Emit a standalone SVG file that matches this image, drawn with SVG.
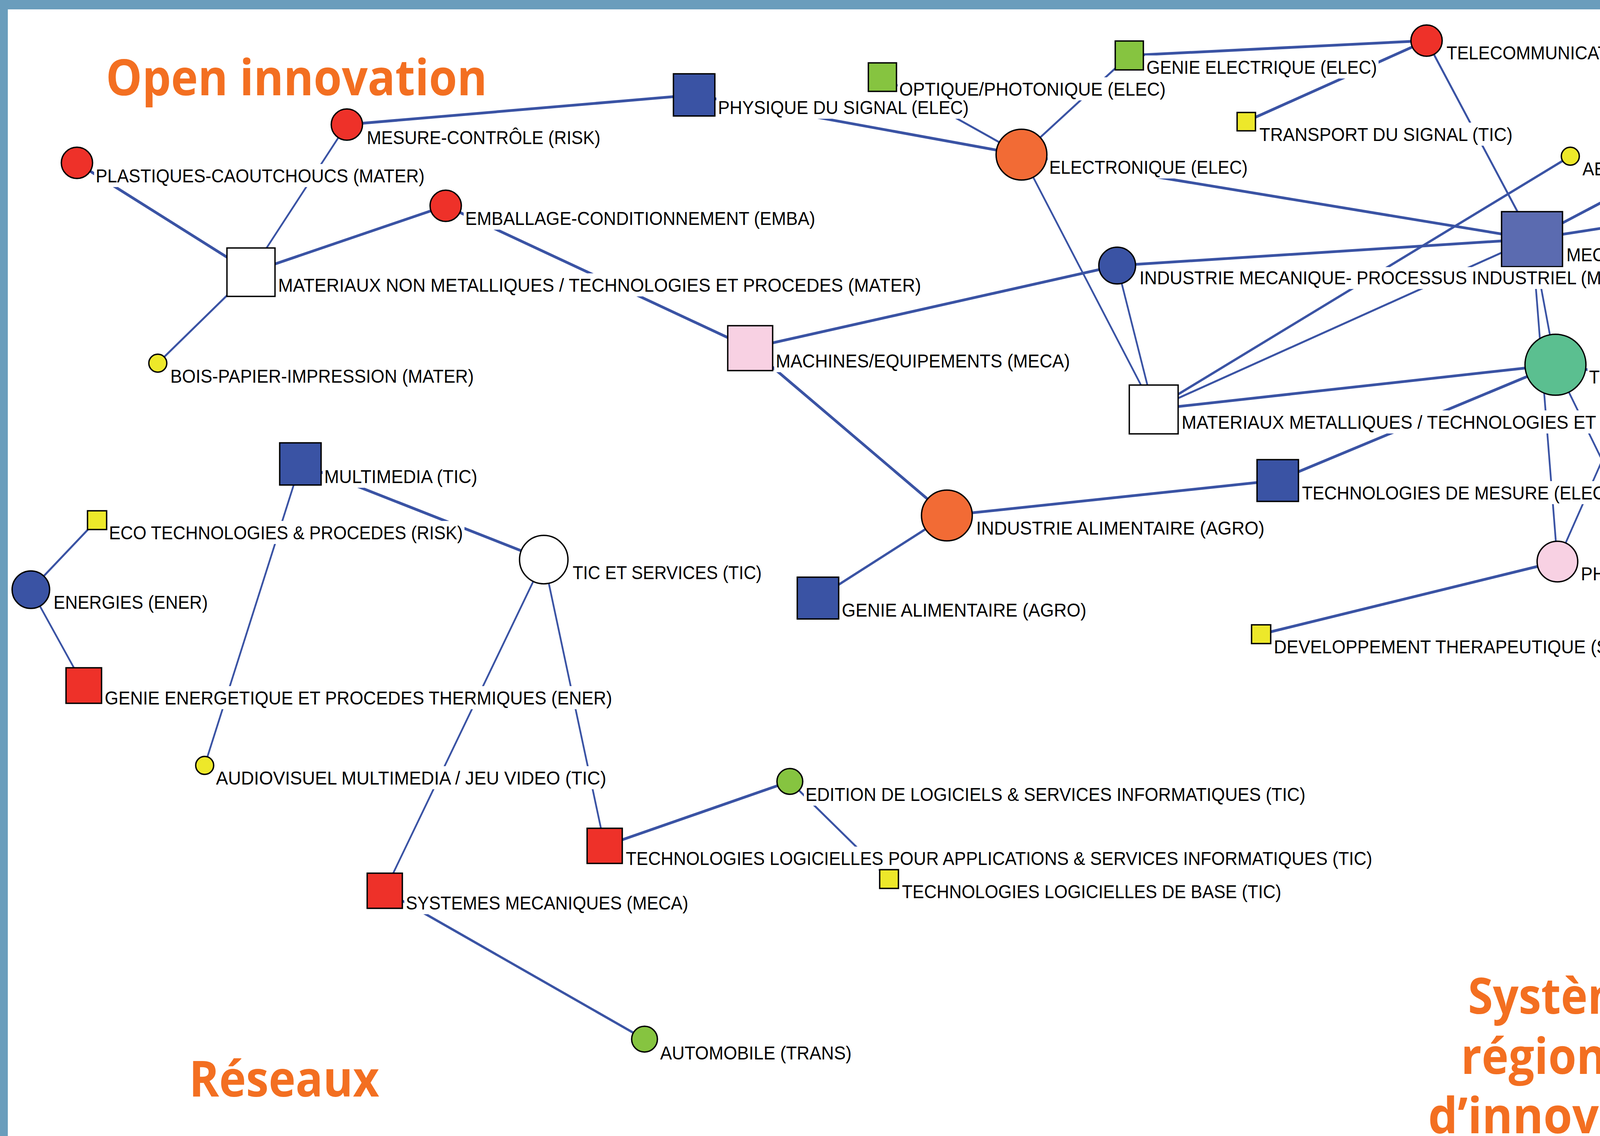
<svg xmlns="http://www.w3.org/2000/svg" width="5767" height="2909" viewBox="0 0 5767 2909">
<style>
.lb{font-family:"Liberation Sans",Arial,sans-serif;font-size:49px;fill:#000}
.bg{fill:#fff}
.nd{stroke:#000;stroke-width:3.5}
.tt{font-family:"Open Sans","Noto Sans",sans-serif;font-weight:700;font-size:128px;fill:#F36F21}
.e{stroke:#3A53A4;fill:none;stroke-linecap:butt}
.w7{stroke-width:7}.w6{stroke-width:6}.w5{stroke-width:5}.w4{stroke-width:4.5}
.red{fill:#EE3129}.blue{fill:#3A53A4}.lav{fill:#5B6BB0}.grn{fill:#86C440}.yel{fill:#EDE82A}.org{fill:#F26B35}.pnk{fill:#F8D1E3}.teal{fill:#5BBF90}.wht{fill:#fff}
.frame{fill:#6A9DBC}
</style>
<rect x="0" y="0" width="5767" height="2909" fill="#fff"/>
<g id="titles">
<text class="tt" x="271" y="244" textLength="976" lengthAdjust="spacingAndGlyphs">Open innovation</text>
<text class="tt" x="4706" y="244" textLength="717" lengthAdjust="spacingAndGlyphs">Partenariats</text>
<text class="tt" x="484" y="2808" textLength="487" lengthAdjust="spacingAndGlyphs">Réseaux</text>
<text class="tt"><tspan x="3758" y="2596" textLength="546" lengthAdjust="spacingAndGlyphs">Systèmes</tspan><tspan x="3740" y="2750" textLength="587" lengthAdjust="spacingAndGlyphs">régionaux</tspan><tspan x="3656" y="2902" textLength="750" lengthAdjust="spacingAndGlyphs">d’innovation</tspan></text>
</g>
<g id="connectors">
<line class="e w7" x1="197" y1="417" x2="642" y2="697"/>
<line class="e w4" x1="888" y1="319" x2="642" y2="697"/>
<line class="e w7" x1="1141" y1="527" x2="642" y2="697"/>
<line class="e w5" x1="404" y1="930" x2="642" y2="697"/>
<line class="e w7" x1="888" y1="319" x2="1777" y2="243"/>
<line class="e w7" x1="1141" y1="527" x2="1920" y2="891"/>
<line class="e w7" x1="1777" y1="243" x2="2615" y2="396"/>
<line class="e w5" x1="2259" y1="197" x2="2615" y2="396"/>
<line class="e w5" x1="2891" y1="142" x2="2615" y2="396"/>
<line class="e w7" x1="2891" y1="142" x2="3652" y2="104"/>
<line class="e w7" x1="3190" y1="311" x2="3652" y2="104"/>
<line class="e w5" x1="3652" y1="104" x2="3922" y2="612"/>
<line class="e w7" x1="2615" y1="396" x2="3922" y2="612"/>
<line class="e w4" x1="2615" y1="396" x2="2953" y2="1048"/>
<line class="e w7" x1="1920" y1="891" x2="2860" y2="680"/>
<line class="e w7" x1="1920" y1="891" x2="2424" y2="1320"/>
<line class="e w7" x1="2860" y1="680" x2="3922" y2="612"/>
<line class="e w4" x1="2860" y1="680" x2="2953" y2="1048"/>
<line class="e w6" x1="2953" y1="1048" x2="4020" y2="400"/>
<line class="e w5" x1="2953" y1="1048" x2="3922" y2="612"/>
<line class="e w7" x1="2953" y1="1048" x2="3982" y2="934"/>
<line class="e w7" x1="3922" y1="612" x2="4503" y2="306"/>
<line class="e w7" x1="3922" y1="612" x2="4829" y2="472"/>
<line class="e w4" x1="3922" y1="612" x2="3982" y2="934"/>
<line class="e w4" x1="3922" y1="612" x2="3987" y2="1438"/>
<line class="e w7" x1="3982" y1="934" x2="4690" y2="1044"/>
<line class="e w7" x1="3982" y1="934" x2="3271" y2="1230"/>
<line class="e w4" x1="3982" y1="934" x2="4172" y2="1323"/>
<line class="e w4" x1="4287" y1="759" x2="3987" y2="1438"/>
<line class="e w7" x1="3987" y1="1438" x2="3228" y2="1624"/>
<line class="e w7" x1="3271" y1="1230" x2="2424" y2="1320"/>
<line class="e w6" x1="2424" y1="1320" x2="2094" y2="1531"/>
<line class="e w5" x1="248" y1="1332" x2="79" y2="1510"/>
<line class="e w4" x1="79" y1="1510" x2="214" y2="1755"/>
<line class="e w7" x1="769" y1="1188" x2="1392" y2="1433"/>
<line class="e w4" x1="769" y1="1188" x2="524" y2="1960"/>
<line class="e w4" x1="1392" y1="1433" x2="985" y2="2281"/>
<line class="e w4" x1="1392" y1="1433" x2="1548" y2="2166"/>
<line class="e w7" x1="1548" y1="2166" x2="2022" y2="2001"/>
<line class="e w5" x1="2022" y1="2001" x2="2276" y2="2251"/>
<line class="e w6" x1="985" y1="2281" x2="1650" y2="2661"/>
<line class="e w6" x1="4472" y1="1565" x2="4850" y2="1721"/>
<line class="e w6" x1="4326" y1="1781" x2="4668" y2="1900"/>
<line class="e w6" x1="4220" y1="1954" x2="4625" y2="2132"/>
<line class="e w6" x1="4143" y1="2183" x2="4736" y2="2298"/>
<line class="e w6" x1="4148" y1="2378" x2="4757" y2="2611"/>
</g>
<g id="nodes">
<g id="n-plastiques"><circle class="nd red" cx="197" cy="417" r="40"/><rect class="bg" x="241" y="420" width="850" height="59"/><text class="lb" x="245" y="467" textLength="842" lengthAdjust="spacingAndGlyphs">PLASTIQUES-CAOUTCHOUCS (MATER)</text></g>
<g id="n-mesure"><circle class="nd red" cx="888" cy="319" r="40"/><rect class="bg" x="935" y="322" width="606" height="59"/><text class="lb" x="939" y="369" textLength="598" lengthAdjust="spacingAndGlyphs">MESURE-CONTRÔLE (RISK)</text></g>
<g id="n-emballage"><circle class="nd red" cx="1141" cy="527" r="40"/><rect class="bg" x="1187" y="529" width="904" height="59"/><text class="lb" x="1191" y="576" textLength="896" lengthAdjust="spacingAndGlyphs">EMBALLAGE-CONDITIONNEMENT (EMBA)</text></g>
<g id="n-matnm"><rect class="nd wht" x="581" y="635" width="123" height="124"/><rect class="bg" x="708" y="700" width="1654" height="59"/><text class="lb" x="712" y="747" textLength="1646" lengthAdjust="spacingAndGlyphs">MATERIAUX NON METALLIQUES / TECHNOLOGIES ET PROCEDES (MATER)</text></g>
<g id="n-bois"><circle class="nd yel" cx="404" cy="930" r="23"/><rect class="bg" x="432" y="933" width="785" height="59"/><text class="lb" x="436" y="980" textLength="777" lengthAdjust="spacingAndGlyphs">BOIS-PAPIER-IMPRESSION (MATER)</text></g>
<g id="n-physique"><rect class="nd blue" x="1724" y="189" width="106" height="108"/><rect class="bg" x="1834" y="245" width="650" height="59"/><text class="lb" x="1838" y="292" textLength="642" lengthAdjust="spacingAndGlyphs">PHYSIQUE DU SIGNAL (ELEC)</text></g>
<g id="n-optique"><rect class="nd grn" x="2223" y="161" width="72" height="73"/><rect class="bg" x="2298" y="198" width="690" height="59"/><text class="lb" x="2302" y="245" textLength="682" lengthAdjust="spacingAndGlyphs">OPTIQUE/PHOTONIQUE (ELEC)</text></g>
<g id="n-electronique"><circle class="nd org" cx="2615" cy="396" r="65"/><rect class="bg" x="2682" y="398" width="516" height="59"/><text class="lb" x="2686" y="445" textLength="508" lengthAdjust="spacingAndGlyphs">ELECTRONIQUE (ELEC)</text></g>
<g id="n-machines"><rect class="nd pnk" x="1863" y="834" width="115" height="115"/><rect class="bg" x="1982" y="894" width="761" height="59"/><text class="lb" x="1986" y="941" textLength="753" lengthAdjust="spacingAndGlyphs">MACHINES/EQUIPEMENTS (MECA)</text></g>
<g id="n-genieelec"><rect class="nd grn" x="2855" y="105" width="72" height="74"/><rect class="bg" x="2931" y="142" width="598" height="59"/><text class="lb" x="2935" y="189" textLength="590" lengthAdjust="spacingAndGlyphs">GENIE ELECTRIQUE (ELEC)</text></g>
<g id="n-telecom"><circle class="nd red" cx="3652" cy="104" r="40"/><rect class="bg" x="3699" y="105" width="645" height="59"/><text class="lb" x="3703" y="152" textLength="637" lengthAdjust="spacingAndGlyphs">TELECOMMUNICATIONS (TIC)</text></g>
<g id="n-transportsignal"><rect class="nd yel" x="3167" y="288" width="47" height="47"/><rect class="bg" x="3220" y="314" width="656" height="59"/><text class="lb" x="3224" y="361" textLength="648" lengthAdjust="spacingAndGlyphs">TRANSPORT DU SIGNAL (TIC)</text></g>
<g id="n-aerien"><circle class="nd yel" cx="4020" cy="400" r="23"/><rect class="bg" x="4047" y="402" width="369" height="59"/><text class="lb" x="4051" y="449" textLength="361" lengthAdjust="spacingAndGlyphs">AERIEN (TRANS)</text></g>
<g id="n-mecaprec"><rect class="nd lav" x="3844" y="542" width="156" height="141"/><rect class="bg" x="4006" y="622" width="777" height="59"/><text class="lb" x="4010" y="669" textLength="769" lengthAdjust="spacingAndGlyphs">MECANIQUE DE PRECISION (MECA)</text></g>
<g id="n-indmeca"><circle class="nd blue" cx="2860" cy="680" r="47"/><rect class="bg" x="2913" y="684" width="1298" height="56"/><text class="lb" x="2917" y="728" textLength="1290" lengthAdjust="spacingAndGlyphs">INDUSTRIE MECANIQUE- PROCESSUS INDUSTRIEL (MECA)</text></g>
<g id="n-diagnostic"><rect class="nd red" x="4244" y="714" width="87" height="90"/><rect class="bg" x="4336" y="764" width="1178" height="59"/><text class="lb" x="4340" y="811" textLength="1170" lengthAdjust="spacingAndGlyphs">DIAGNOSTIC ET MARQUEURS BIOLOGIQUES (SANTE)</text></g>
<g id="n-techmed"><circle class="nd teal" cx="3982" cy="934" r="78"/><rect class="bg" x="4064" y="935" width="823" height="59"/><text class="lb" x="4068" y="982" textLength="815" lengthAdjust="spacingAndGlyphs">TECHNOLOGIES MEDICALES (SANTE)</text></g>
<g id="n-metallurgie"><circle class="nd yel" cx="4503" cy="306" r="23"/><rect class="bg" x="4531" y="310" width="1039" height="59"/><text class="lb" x="4535" y="357" textLength="1031" lengthAdjust="spacingAndGlyphs">METALLURGIE-TRAVAIL DES METAUX (MATER)</text></g>
<g id="n-manutention"><circle class="nd yel" cx="4829" cy="472" r="23"/><rect class="bg" x="4858" y="475" width="509" height="59"/><text class="lb" x="4862" y="522" textLength="501" lengthAdjust="spacingAndGlyphs">MANUTENTION (MECA)</text></g>
<g id="n-matmet"><rect class="nd wht" x="2891" y="986" width="125" height="125"/><rect class="bg" x="3021" y="1051" width="1536" height="59"/><text class="lb" x="3025" y="1098" textLength="1528" lengthAdjust="spacingAndGlyphs">MATERIAUX METALLIQUES / TECHNOLOGIES ET PROCEDES (MATER)</text></g>
<g id="n-techmesure"><rect class="nd blue" x="3218" y="1177" width="106" height="107"/><rect class="bg" x="3329" y="1232" width="799" height="59"/><text class="lb" x="3333" y="1279" textLength="791" lengthAdjust="spacingAndGlyphs">TECHNOLOGIES DE MESURE (ELEC)</text></g>
<g id="n-outils"><rect class="nd yel" x="4149" y="1300" width="47" height="47"/><rect class="bg" x="4201" y="1324" width="1583" height="59"/><text class="lb" x="4205" y="1371" textLength="1575" lengthAdjust="spacingAndGlyphs">OUTILS DE RECHERCHE BIOLOGIQUES ET PHARMACEUTIQUES (SANTE)</text></g>
<g id="n-pharmacie"><circle class="nd pnk" cx="3987" cy="1438" r="52"/><rect class="bg" x="4043" y="1439" width="802" height="59"/><text class="lb" x="4047" y="1486" textLength="794" lengthAdjust="spacingAndGlyphs">PHARMACIE-BIOINDUSTRIE (SANTE)</text></g>
<g id="n-developpement"><rect class="nd yel" x="3204" y="1600" width="49" height="48"/><rect class="bg" x="3257" y="1626" width="1000" height="59"/><text class="lb" x="3261" y="1673" textLength="992" lengthAdjust="spacingAndGlyphs">DEVELOPPEMENT THERAPEUTIQUE (SANTE)</text></g>
<g id="n-electronique2"><rect class="nd yel" x="4666" y="1020" width="48" height="48"/><rect class="bg" x="4717" y="1048" width="516" height="59"/><text class="lb" x="4721" y="1095" textLength="508" lengthAdjust="spacingAndGlyphs">ELECTRONIQUE (ELEC)</text></g>
<g id="n-indalim"><circle class="nd org" cx="2424" cy="1320" r="65"/><rect class="bg" x="2495" y="1322" width="746" height="59"/><text class="lb" x="2499" y="1369" textLength="738" lengthAdjust="spacingAndGlyphs">INDUSTRIE ALIMENTAIRE (AGRO)</text></g>
<g id="n-geniealim"><rect class="nd blue" x="2041" y="1478" width="106" height="107"/><rect class="bg" x="2151" y="1532" width="634" height="59"/><text class="lb" x="2155" y="1579" textLength="626" lengthAdjust="spacingAndGlyphs">GENIE ALIMENTAIRE (AGRO)</text></g>
<g id="n-multimedia"><rect class="nd blue" x="716" y="1134" width="106" height="108"/><rect class="bg" x="826" y="1190" width="400" height="59"/><text class="lb" x="830" y="1237" textLength="392" lengthAdjust="spacingAndGlyphs">MULTIMEDIA (TIC)</text></g>
<g id="n-eco"><rect class="nd yel" x="224" y="1308" width="49" height="48"/><rect class="bg" x="275" y="1334" width="914" height="59"/><text class="lb" x="279" y="1381" textLength="906" lengthAdjust="spacingAndGlyphs">ECO TECHNOLOGIES &amp; PROCEDES (RISK)</text></g>
<g id="n-tic"><circle class="nd wht" cx="1392" cy="1433" r="62"/><rect class="bg" x="1462" y="1436" width="492" height="59"/><text class="lb" x="1466" y="1483" textLength="484" lengthAdjust="spacingAndGlyphs">TIC ET SERVICES (TIC)</text></g>
<g id="n-energies"><circle class="nd blue" cx="79" cy="1510" r="48"/><rect class="bg" x="133" y="1512" width="403" height="59"/><text class="lb" x="137" y="1559" textLength="395" lengthAdjust="spacingAndGlyphs">ENERGIES (ENER)</text></g>
<g id="n-genieenerg"><rect class="nd red" x="169" y="1710" width="91" height="91"/><rect class="bg" x="264" y="1757" width="1307" height="59"/><text class="lb" x="268" y="1804" textLength="1299" lengthAdjust="spacingAndGlyphs">GENIE ENERGETIQUE ET PROCEDES THERMIQUES (ENER)</text></g>
<g id="n-audiovisuel"><circle class="nd yel" cx="524" cy="1960" r="23"/><rect class="bg" x="549" y="1962" width="1007" height="59"/><text class="lb" x="553" y="2009" textLength="999" lengthAdjust="spacingAndGlyphs">AUDIOVISUEL MULTIMEDIA / JEU VIDEO (TIC)</text></g>
<g id="n-systemes"><rect class="nd red" x="940" y="2236" width="90" height="90"/><rect class="bg" x="1035" y="2282" width="731" height="59"/><text class="lb" x="1039" y="2329" textLength="723" lengthAdjust="spacingAndGlyphs">SYSTEMES MECANIQUES (MECA)</text></g>
<g id="n-techlogapp"><rect class="nd red" x="1503" y="2121" width="90" height="90"/><rect class="bg" x="1598" y="2168" width="1919" height="59"/><text class="lb" x="1602" y="2215" textLength="1911" lengthAdjust="spacingAndGlyphs">TECHNOLOGIES LOGICIELLES POUR APPLICATIONS &amp; SERVICES INFORMATIQUES (TIC)</text></g>
<g id="n-edition"><circle class="nd grn" cx="2022" cy="2001" r="33"/><rect class="bg" x="2058" y="2004" width="1288" height="59"/><text class="lb" x="2062" y="2051" textLength="1280" lengthAdjust="spacingAndGlyphs">EDITION DE LOGICIELS &amp; SERVICES INFORMATIQUES (TIC)</text></g>
<g id="n-techlogbase"><rect class="nd yel" x="2252" y="2227" width="48" height="48"/><rect class="bg" x="2305" y="2253" width="979" height="59"/><text class="lb" x="2309" y="2300" textLength="971" lengthAdjust="spacingAndGlyphs">TECHNOLOGIES LOGICIELLES DE BASE (TIC)</text></g>
<g id="n-automobile"><circle class="nd grn" cx="1650" cy="2661" r="33"/><rect class="bg" x="1686" y="2666" width="498" height="59"/><text class="lb" x="1690" y="2713" textLength="490" lengthAdjust="spacingAndGlyphs">AUTOMOBILE (TRANS)</text></g>
<g id="n-geniecivil"><rect class="nd grn" x="4436" y="1528" width="73" height="75"/><rect class="bg" x="4513" y="1567" width="395" height="59"/><text class="lb" x="4517" y="1614" textLength="387" lengthAdjust="spacingAndGlyphs">GENIE CIVIL (BTP)</text></g>
<g id="n-matconst"><circle class="nd grn" cx="4850" cy="1721" r="33"/><rect class="bg" x="4887" y="1723" width="858" height="59"/><text class="lb" x="4891" y="1770" textLength="850" lengthAdjust="spacingAndGlyphs">MATERIAUX DE CONSTRUCTION (BTP)</text></g>
<g id="n-mise"><rect class="nd yel" x="4303" y="1758" width="47" height="47"/><rect class="bg" x="4353" y="1784" width="1254" height="59"/><text class="lb" x="4357" y="1831" textLength="1246" lengthAdjust="spacingAndGlyphs">MISE EN OEUVRE MATERIAUX NON METALLIQUES (MAT)</text></g>
<g id="n-genieproc"><rect class="nd yel" x="4196" y="1930" width="48" height="48"/><rect class="bg" x="4249" y="1958" width="901" height="57"/><text class="lb" x="4253" y="2003" textLength="893" lengthAdjust="spacingAndGlyphs">GENIE DES PROCEDES CHIMIQUE (CHIM)</text></g>
<g id="n-verre"><circle class="nd yel" cx="4668" cy="1900" r="23"/><rect class="bg" x="4694" y="1901" width="345" height="57"/><text class="lb" x="4698" y="1948" textLength="337" lengthAdjust="spacingAndGlyphs">VERRE (INDUS)</text></g>
<g id="n-parachimie"><circle class="nd yel" cx="4625" cy="2132" r="23"/><rect class="bg" x="4655" y="2135" width="437" height="59"/><text class="lb" x="4659" y="2182" textLength="429" lengthAdjust="spacingAndGlyphs">PARACHIMIE (CHIM)</text></g>
<g id="n-matnmmat"><rect class="nd yel" x="4120" y="2159" width="47" height="48"/><rect class="bg" x="4170" y="2196" width="853" height="49"/><text class="lb" x="4174" y="2233" textLength="845" lengthAdjust="spacingAndGlyphs">MATERIAUX NON METALLIQUES (MAT)</text></g>
<g id="n-transportequip"><circle class="nd yel" cx="4736" cy="2298" r="23"/><rect class="bg" x="4765" y="2301" width="468" height="59"/><text class="lb" x="4769" y="2348" textLength="460" lengthAdjust="spacingAndGlyphs">TRANSPORT (EQUIP)</text></g>
<g id="n-procpharma"><rect class="nd yel" x="4124" y="2353" width="48" height="49"/><rect class="bg" x="4175" y="2380" width="926" height="59"/><text class="lb" x="4179" y="2427" textLength="918" lengthAdjust="spacingAndGlyphs">PROCEDES PHARMACEUTIQUES (GPROC)</text></g>
<g id="n-biomedical"><circle class="nd yel" cx="4757" cy="2611" r="23"/><rect class="bg" x="4785" y="2613" width="420" height="59"/><text class="lb" x="4789" y="2660" textLength="412" lengthAdjust="spacingAndGlyphs">BIOMEDICAL (SVIE)</text></g>
</g>
<g id="frame">
<rect class="frame" x="0" y="0" width="5767" height="24"/>
<rect class="frame" x="0" y="0" width="20" height="2909"/>
<rect class="frame" x="5700" y="0" width="67" height="2909"/>
</g>
</svg>
